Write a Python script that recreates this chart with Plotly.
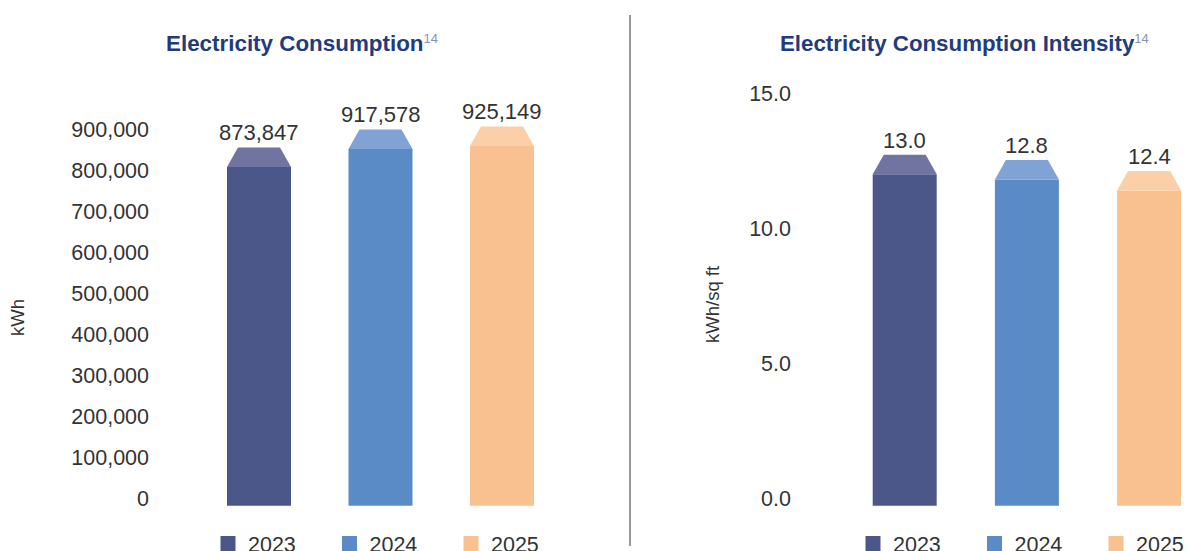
import plotly.graph_objects as go

# ---- data -------------------------------------------------------------
years = ["2023", "2024", "2025"]
consumption_kwh = [873847, 917578, 925149]
intensity_kwh_sqft = [13.0, 12.8, 12.4]
consumption_ticks = [0, 100000, 200000, 300000, 400000, 500000, 600000, 700000, 800000, 900000]
intensity_ticks = [0, 5, 10, 15]

# ---- style ------------------------------------------------------------
body_colors = ["#4b5789", "#5a8bc7", "#f9c190"]
cap_colors = ["#7173a1", "#80a3d6", "#fbcfa8"]

W, H = 1188, 551
FONT = "Liberation Sans, Arial, Helvetica, sans-serif"
TEXT = "#333333"
TITLE = "#223b7c"
SUP = "#8492bb"

ZERO_PX = 505.7      # pixel row of the value axis zero line
CAP_PX = 19.5        # height of the bevelled cap on each bar
BAR_PX = 64          # bar width
INSET_PX = 11        # how far the cap narrows on each side

fig = go.Figure()
annotations = []


def panel(n, values, label_fmt, tick_vals, tick_fmt, px_per_unit,
          x_left_px, x_right_px, first_center_px, step_px, legend_name):
    xa = "x" if n == 1 else f"x{n}"
    ya = "y" if n == 1 else f"y{n}"
    cap_h = CAP_PX / px_per_unit
    bar_w = BAR_PX / step_px
    inset = INSET_PX / step_px
    hw = bar_w / 2
    xs = list(range(len(values)))

    # bar bodies
    fig.add_trace(go.Bar(
        x=xs, y=[v - cap_h for v in values], width=bar_w,
        marker=dict(color=body_colors, line=dict(width=0)),
        xaxis=xa, yaxis=ya, showlegend=False, hoverinfo="skip",
    ))
    # bevelled caps reaching up to each value
    for i, v in enumerate(values):
        fig.add_trace(go.Scatter(
            x=[i - hw, i - hw + inset, i + hw - inset, i + hw, i - hw],
            y=[v - cap_h, v, v, v - cap_h, v - cap_h],
            mode="lines", fill="toself", fillcolor=cap_colors[i],
            line=dict(width=0, color=cap_colors[i]),
            xaxis=xa, yaxis=ya, showlegend=False, hoverinfo="skip",
        ))
        annotations.append(dict(
            x=i, y=v, xref=xa, yref=ya, text=label_fmt(v), showarrow=False,
            yanchor="middle", yshift=14.5,
            font=dict(family=FONT, size=22, color=TEXT),
        ))
    # legend swatches
    for i, yr in enumerate(years):
        fig.add_trace(go.Scatter(
            x=[None], y=[None], mode="markers", name=yr,
            marker=dict(symbol="square", size=15, color=body_colors[i]),
            xaxis=xa, yaxis=ya, legend=legend_name, hoverinfo="skip",
        ))

    xkey = "xaxis" if n == 1 else f"xaxis{n}"
    ykey = "yaxis" if n == 1 else f"yaxis{n}"
    fig.update_layout({
        xkey: dict(
            domain=[x_left_px / W, x_right_px / W],
            range=[(x_left_px - first_center_px) / step_px,
                   (x_right_px - first_center_px) / step_px],
            visible=False, anchor=ya,
        ),
        ykey: dict(
            domain=[0, 1], anchor=xa,
            range=[-(H - ZERO_PX) / px_per_unit, ZERO_PX / px_per_unit],
            tickvals=tick_vals, tickformat=tick_fmt,
            ticks="", showgrid=False, zeroline=False, showline=False,
            ticklabelshift=-7,
            tickfont=dict(family=FONT, size=21.5, color=TEXT),
        ),
    })


panel(1, consumption_kwh, lambda v: f"{v:,}", consumption_ticks, ",",
      41 / 100000, 150, 612, 259, 121.5, "legend")
panel(2, intensity_kwh_sqft, lambda v: f"{v:.1f}", intensity_ticks, ".1f",
      27.0, 792, 1188, 904.7, 122.2, "legend2")

# panel titles
SUP_HTML = "<span style='font-weight:normal;color:%s;font-size:18.5px'><sup>14</sup></span>" % SUP
annotations.append(dict(
    x=164 / W, y=1 - 44 / H, xref="paper", yref="paper", xanchor="left", yanchor="middle",
    text="Electricity Consumption" + SUP_HTML,
    showarrow=False, font=dict(family=FONT, size=22.4, color=TITLE, weight="bold"),
))
annotations.append(dict(
    x=778 / W, y=1 - 44 / H, xref="paper", yref="paper", xanchor="left", yanchor="middle",
    text="Electricity Consumption Intensity" + SUP_HTML,
    showarrow=False, font=dict(family=FONT, size=22.3, color=TITLE, weight="bold"),
))
# value-axis titles
annotations.append(dict(
    x=17 / W, y=1 - 318 / H, xref="paper", yref="paper", textangle=-90,
    xanchor="center", yanchor="middle",
    text="kWh", showarrow=False, font=dict(family=FONT, size=18.5, color=TEXT),
))
annotations.append(dict(
    x=712 / W, y=1 - 305 / H, xref="paper", yref="paper", textangle=-90,
    xanchor="center", yanchor="middle",
    text="kWh/sq ft", showarrow=False, font=dict(family=FONT, size=18.5, color=TEXT),
))

legend_style = dict(
    orientation="h", yanchor="top", y=1 - 523 / H, xanchor="left",
    entrywidth=76.5, entrywidthmode="pixels", itemsizing="trace",
    bgcolor="rgba(0,0,0,0)", borderwidth=0, traceorder="normal",
    font=dict(family=FONT, size=21.5, color=TEXT),
)

fig.update_layout(
    width=W, height=H, autosize=False,
    template="none",
    paper_bgcolor="white", plot_bgcolor="white",
    margin=dict(l=0, r=0, t=0, b=0, pad=0, autoexpand=False),
    barmode="overlay",
    legend=dict(legend_style, x=208 / W),
    legend2=dict(legend_style, x=853 / W),
    annotations=annotations,
    shapes=[dict(type="line", xref="paper", yref="paper",
                 x0=630 / W, x1=630 / W, y0=1 - 546 / H, y1=1 - 15 / H,
                 line=dict(color="#777777", width=1.5))],
    hovermode=False,
)

fig.write_html("out.html")
